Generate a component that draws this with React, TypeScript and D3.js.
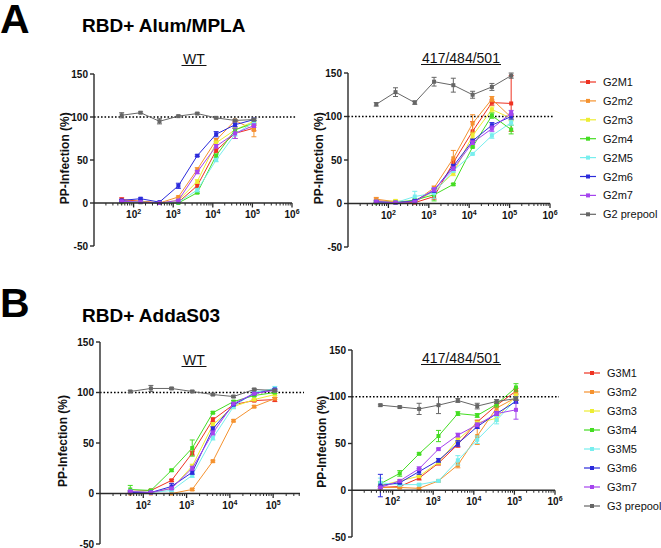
import React from 'react';
import * as d3 from 'd3';

const dilutions = [50, 150, 450, 1350, 4050, 12150, 36450, 109350];
const seriesColors = ['#ee3322', '#f5922f', '#eded33', '#44dd22', '#77eeee', '#2b2bdb', '#a544ee', '#666666'];
const namesA = ['G2M1', 'G2m2', 'G2m3', 'G2m4', 'G2M5', 'G2m6', 'G2m7', 'G2 prepool'];
const namesB = ['G3M1', 'G3m2', 'G3m3', 'G3m4', 'G3M5', 'G3m6', 'G3m7', 'G3 prepool'];
const yTicks = [150, 100, 50, 0, -50];

// Panel A, WT
const aWT = [
  [4, 2, 0, 1, 20, 61, 81, 87],
  [2, 2, 0, 7, 39, 73, 96, 85],
  [1, 1, 0, 3, 25, 70, 85, 95],
  [1, 1, 0, 0, 12, 55, 85, 93],
  [2, 1, 0, 1, 15, 50, 80, 94],
  [3, 5, 1, 20, 55, 80, 91, 97],
  [2, 1, 0, 3, 36, 66, 81, 90],
  [102, 105, 95, 101, 104, 99, 96, 97],
];
const aWTErr = [
  [2, 1, 0.5, 0.5, 2, 2, 6, 3],
  [1, 1, 0, 1, 2, 2, 1, 8],
  [1, 1, 0, 1, 2, 2, 2, 2],
  [1, 1, 0, 0.5, 1, 2, 2, 2],
  [1, 1, 0, 0.5, 2, 2, 2, 2],
  [1, 1, 0.5, 3, 1, 3, 2, 1],
  [1, 1, 0, 1, 2, 2, 6, 2],
  [3, 1, 3, 1, 1, 1, 1, 1],
];
// Panel A, 417/484/501
const aMut = [
  [3, 2, 1, 8, 47, 83, 116, 115],
  [5, 2, 2, 18, 52, 92, 120, 99],
  [2, 3, 2, 14, 35, 78, 108, 98],
  [1, 1, 4, 10, 22, 65, 101, 85],
  [2, 1, 8, 12, 38, 57, 78, 93],
  [2, 1, 3, 15, 43, 72, 90, 100],
  [2, 1, 2, 16, 40, 70, 86, 104],
  [114, 128, 116, 140, 136, 125, 134, 147],
];
const aMutErr = [
  [2, 1, 1, 3, 3, 11, 3, 32],
  [2, 1, 1, 2, 9, 10, 3, 3],
  [1, 1, 1, 2, 3, 3, 3, 3],
  [1, 1, 1, 7, 1, 1, 3, 5],
  [1, 1, 6, 6, 2, 1, 3, 3],
  [1, 1, 1, 2, 2, 2, 3, 3],
  [1, 1, 1, 2, 2, 2, 3, 3],
  [2, 5, 2, 5, 8, 4, 4, 3],
];
// Panel B, WT
const bWT = [
  [2, 3, 13, 40, 73, 88, 92, 93],
  [0, 0, 0, 4, 32, 72, 86, 94],
  [1, 1, 5, 27, 68, 86, 93, 98],
  [4, 3, 23, 45, 80, 91, 97, 100],
  [2, 1, 3, 18, 55, 86, 100, 104],
  [1, 1, 7, 21, 64, 88, 99, 103],
  [2, 1, 5, 25, 60, 89, 99, 102],
  [101, 104, 104, 101, 98, 96, 103, 102],
];
const bWTErr = [
  [1, 1, 1, 2, 2, 1, 1, 2],
  [0, 0, 0, 1, 1, 1, 1, 1],
  [1, 1, 1, 2, 2, 2, 1, 1],
  [4, 1, 1, 8, 1, 1, 1, 1],
  [1, 1, 1, 2, 2, 2, 1, 2],
  [1, 1, 3, 2, 2, 1, 1, 1],
  [1, 1, 1, 2, 2, 1, 1, 1],
  [1, 3, 1, 1, 1, 1, 1, 1],
];
// Panel B, 417/484/501
const bMut = [
  [3, 4, 13, 29, 49, 73, 91, 106],
  [3, 3, 2, 10, 27, 58, 88, 99],
  [5, 10, 15, 30, 54, 72, 77, 101],
  [7, 18, 39, 58, 82, 80, 92, 110],
  [8, 6, 6, 10, 32, 54, 75, 97],
  [5, 8, 20, 32, 50, 68, 82, 95],
  [3, 10, 23, 44, 59, 70, 82, 86],
  [91, 89, 87, 91, 96, 90, 95, 98],
];
const bMutErr = [
  [1, 1, 2, 2, 3, 2, 2, 3],
  [1, 1, 1, 1, 3, 9, 3, 3],
  [1, 1, 1, 2, 2, 2, 3, 3],
  [2, 3, 1, 6, 2, 2, 3, 4],
  [5, 1, 1, 1, 5, 4, 4, 3],
  [12, 1, 3, 2, 3, 2, 2, 2],
  [1, 1, 2, 1, 2, 2, 2, 10],
  [1, 1, 6, 9, 2, 3, 2, 2],
];

const FONT = '"Liberation Sans", Arial, Helvetica, sans-serif';

type PanelProps = {
  x0: number; x1: number; xMax: number;
  yTopPx: number; yBotPx: number;
  values: number[][]; errors: number[][];
  title: string; titleX: number; titleY: number; titleW: number;
  labelX: number;
};

function Panel(p: PanelProps) {
  const x = d3.scaleLog().domain([10, p.xMax]).range([p.x0, p.x1]);
  const y = d3.scaleLinear().domain([-50, 150]).range([p.yBotPx, p.yTopPx]);
  const y0 = y(0);
  const majors: number[] = [];
  const minors: number[] = [];
  for (let e = 1; e <= 6; e++) {
    const v = Math.pow(10, e);
    if (v <= p.xMax * 1.0001 && e >= 2) majors.push(e);
    if (e <= 5) {
      for (let k = 2; k <= 9; k++) {
        const m = k * v;
        if (m <= p.xMax) minors.push(m);
      }
    }
  }
  const line = d3.line<number>().x((_, i) => x(dilutions[i])).y((d) => y(d));
  const axisColor = '#2a2a2a';
  const labelY = y(52);
  return (
    <g>
      <line x1={p.x0} x2={p.x1 + 4} y1={y(100)} y2={y(100)} stroke="#000" strokeWidth={1.3} strokeDasharray="1.6,1.9" />
      {p.values.map((vals, si) => {
        const c = seriesColors[si];
        return (
          <g key={si}>
            <path d={line(vals) || ''} fill="none" stroke={c} strokeWidth={1} />
            {vals.map((v, i) => {
              const cx = x(dilutions[i]);
              const err = p.errors[si][i];
              return (
                <g key={i}>
                  {err > 0.6 && (
                    <g stroke={c} strokeWidth={1}>
                      <line x1={cx} x2={cx} y1={y(v - err)} y2={y(v + err)} />
                      <line x1={cx - 2.5} x2={cx + 2.5} y1={y(v - err)} y2={y(v - err)} />
                      <line x1={cx - 2.5} x2={cx + 2.5} y1={y(v + err)} y2={y(v + err)} />
                    </g>
                  )}
                  <rect x={cx - 2} y={y(v) - 2} width={4} height={4} fill={c} />
                </g>
              );
            })}
          </g>
        );
      })}
      <line x1={p.x0} x2={p.x0} y1={y(150)} y2={y(-50)} stroke={axisColor} strokeWidth={1.4} />
      {yTicks.map((t) => (
        <g key={t}>
          <line x1={p.x0 - 4} x2={p.x0} y1={y(t)} y2={y(t)} stroke={axisColor} strokeWidth={1.4} />
          <text x={p.x0 - 6} y={y(t) + 3.5} textAnchor="end" fontSize={10} fontWeight="bold" fontFamily={FONT} fill="#111">{t}</text>
        </g>
      ))}
      <line x1={p.x0} x2={p.x1} y1={y0} y2={y0} stroke={axisColor} strokeWidth={1.4} />
      {minors.map((m, i) => (
        <line key={i} x1={x(m)} x2={x(m)} y1={y0} y2={y0 + 2.5} stroke={axisColor} strokeWidth={1} />
      ))}
      {majors.map((e) => (
        <g key={e}>
          <line x1={x(Math.pow(10, e))} x2={x(Math.pow(10, e))} y1={y0} y2={y0 + 4.5} stroke={axisColor} strokeWidth={1.3} />
          <text x={x(Math.pow(10, e)) - 7.5} y={y0 + 15} fontSize={10} fontWeight="bold" fontFamily={FONT} fill="#111">
            10<tspan dy={-4} fontSize={7}>{e}</tspan>
          </text>
        </g>
      ))}
      <text transform={`translate(${p.labelX},${labelY}) rotate(-90)`} textAnchor="middle" fontSize={12} fontWeight="bold" fontFamily={FONT} fill="#111">PP-Infection (%)</text>
      <text x={p.titleX} y={p.titleY} textAnchor="middle" fontSize={14} fontFamily={FONT} fill="#111">{p.title}</text>
      <line x1={p.titleX - p.titleW / 2} x2={p.titleX + p.titleW / 2} y1={p.titleY + 1.5} y2={p.titleY + 1.5} stroke="#111" strokeWidth={1} />
    </g>
  );
}

function Legend({ names, x, y0, step }: { names: string[]; x: number; y0: number; step: number }) {
  return (
    <g>
      {names.map((n, i) => {
        const yy = y0 + i * step;
        const c = seriesColors[i];
        return (
          <g key={n}>
            <line x1={x} x2={x + 16} y1={yy} y2={yy} stroke={c} strokeWidth={1.2} />
            <rect x={x + 6} y={yy - 2} width={4} height={4} fill={c} />
            <text x={x + 23} y={yy + 4} fontSize={11} fontFamily={FONT} fill="#111">{n}</text>
          </g>
        );
      })}
    </g>
  );
}

export default function App() {
  return (
    <svg width={661} height={548} style={{ position: 'absolute', left: 0, top: 0, background: '#fff' }}>
      <rect width={661} height={548} fill="#fff" />
      <text x={0} y={33} fontSize={41} fontWeight="bold" fontFamily={FONT} fill="#000">A</text>
      <text x={82} y={32} fontSize={19} fontWeight="bold" fontFamily={FONT} fill="#000">RBD+ Alum/MPLA</text>
      <text x={0} y={317} fontSize={41} fontWeight="bold" fontFamily={FONT} fill="#000">B</text>
      <text x={82} y={322} fontSize={19} fontWeight="bold" fontFamily={FONT} fill="#000">RBD+ AddaS03</text>

      <Panel x0={94} x1={292} xMax={1e6} yTopPx={74} yBotPx={246} values={aWT} errors={aWTErr} title="WT" titleX={194} titleY={64} titleW={25} labelX={69} />
      <Panel x0={348} x1={550} xMax={1e6} yTopPx={73} yBotPx={247} values={aMut} errors={aMutErr} title="417/484/501" titleX={461} titleY={63} titleW={80} labelX={323} />
      <Panel x0={100} x1={300} xMax={Math.pow(10, 5.62)} yTopPx={342} yBotPx={544} values={bWT} errors={bWTErr} title="WT" titleX={194} titleY={365} titleW={25} labelX={67} />
      <Panel x0={352} x1={555} xMax={1e6} yTopPx={350} yBotPx={537} values={bMut} errors={bMutErr} title="417/484/501" titleX={461} titleY={363} titleW={80} labelX={326} />

      <Legend names={namesA} x={580} y0={82} step={18.9} />
      <Legend names={namesB} x={584} y0={373} step={19} />
    </svg>
  );
}
